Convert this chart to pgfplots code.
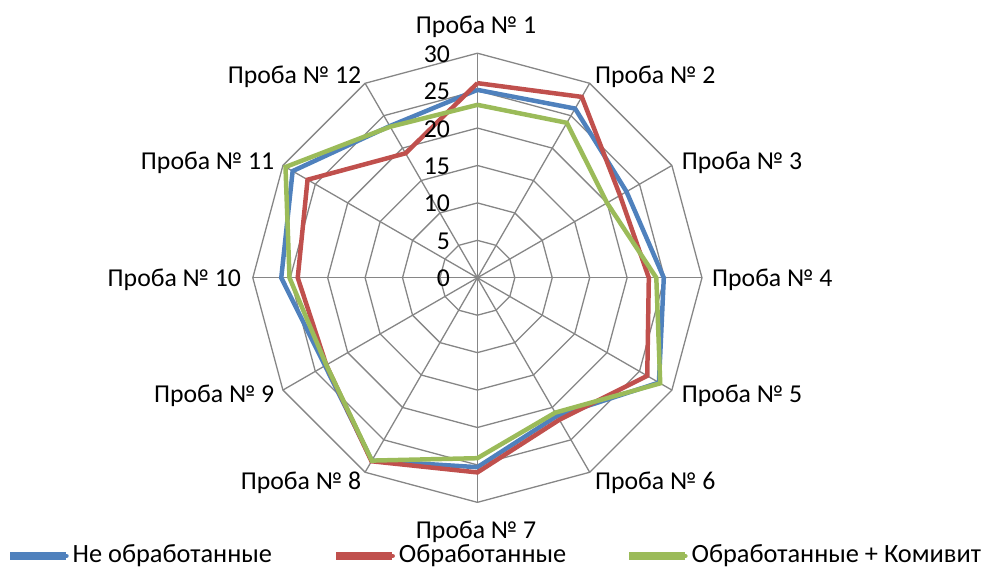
\documentclass[border=0pt]{standalone}
\usepackage{pgfplots}
\pgfplotsset{compat=1.18}
\usepackage{pgfplotstable}
\usepackage{fontspec}
\setmainfont{Carlito}
\definecolor{cblue}{HTML}{4F81BD}
\definecolor{cred}{HTML}{C0504D}
\definecolor{cgreen}{HTML}{9BBB59}
\definecolor{cgrid}{HTML}{868686}
\newcommand{\leA}{\hbox to 259.6bp{\fontsize{26.4bp}{30bp}\selectfont Не обработанные\hfil}}
\newcommand{\leB}{\hbox to 226bp{\fontsize{26.4bp}{30bp}\selectfont Обработанные\hfil}}
\newcommand{\leC}{\hbox{\fontsize{26.4bp}{30bp}\selectfont Обработанные + Комивит}}
\pgfplotstableread{
i blue red green
0 25.1 26.0 23.1
1 26.1 27.9 23.9
2 23.0 22.0 20.0
3 24.9 22.9 23.9
4 28.0 26.2 28.2
5 21.3 21.9 20.8
6 25.3 26.0 24.1
7 28.2 28.3 28.2
8 23.5 23.3 23.3
9 26.2 24.0 25.1
10 28.5 26.2 29.6
11 23.4 19.2 23.3
12 25.1 26.0 23.1
}\data
\pgfplotstableread{
i d
0 0
1 0
2 0
3 0
4 0
5 0
6 0
7 0
8 0
9 0
10 0
11 0
12 0
}\angles
\pgfplotstableread{
r d
0 0
30 0
}\spoke
\begin{document}
\begin{tikzpicture}
\fontsize{25.8bp}{30bp}\selectfont
\begin{axis}[
  x=7.5bp, y=7.5bp,
  xmin=-63.773, xmax=67.027, ymin=-38.893, ymax=37.107,
  hide axis, clip=false,
  legend columns=3,
  legend style={at={(rel axis cs:0.00958,0.0228)}, anchor=west, draw=none, fill=none,
    inner sep=0pt, column sep=4bp, nodes={inner sep=0pt}},
  legend image code/.code={\path (0bp,-2bp) rectangle (52bp,2bp); \draw[#1,line cap=round] (2.25bp,0) -- (54.75bp,0);},
]
\path (rel axis cs:0,0) rectangle (rel axis cs:1,1);
\pgfplotsinvokeforeach{5,10,15,20,25,30}{
  \addplot[cgrid, line width=1.3bp, forget plot] table[x expr={#1*sin(30*\thisrow{i})}, y expr={#1*cos(30*\thisrow{i})}] {\angles};
}
\pgfplotsinvokeforeach{0,...,11}{
  \addplot[cgrid, line width=1.3bp, forget plot] table[x expr={\thisrow{r}*sin(30*#1)}, y expr={\thisrow{r}*cos(30*#1)}] {\spoke};
}
\addplot[cblue, line width=4.5bp] table[x expr={\thisrow{blue}*sin(30*\thisrow{i})}, y expr={\thisrow{blue}*cos(30*\thisrow{i})}] {\data};
\addlegendentry{\leA}
\addplot[cred, line width=4.5bp] table[x expr={\thisrow{red}*sin(30*\thisrow{i})}, y expr={\thisrow{red}*cos(30*\thisrow{i})}] {\data};
\addlegendentry{\leB}
\addplot[cgreen, line width=4.5bp] table[x expr={\thisrow{green}*sin(30*\thisrow{i})}, y expr={\thisrow{green}*cos(30*\thisrow{i})}] {\data};
\addlegendentry{\leC}
% tick labels
\node[anchor=base east, inner sep=0pt] at (axis cs:-3.64,-1.2) {0};
\node[anchor=base east, inner sep=0pt] at (axis cs:-3.64,3.8) {5};
\node[anchor=base east, inner sep=0pt] at (axis cs:-3.64,8.8) {10};
\node[anchor=base east, inner sep=0pt] at (axis cs:-3.64,13.8) {15};
\node[anchor=base east, inner sep=0pt] at (axis cs:-3.64,18.8) {20};
\node[anchor=base east, inner sep=0pt] at (axis cs:-3.64,23.8) {25};
\node[anchor=base east, inner sep=0pt] at (axis cs:-3.64,28.8) {30};
% category labels
\node[anchor=base, inner sep=0pt] at (axis cs:-0.173,32.567) {Проба № 1};
\node[anchor=base west, inner sep=0pt] at (axis cs:15.693,26.007) {Проба № 2};
\node[anchor=base west, inner sep=0pt] at (axis cs:27.293,14.407) {Проба № 3};
\node[anchor=base west, inner sep=0pt] at (axis cs:31.333,-1.1) {Проба № 4};
\node[anchor=base west, inner sep=0pt] at (axis cs:27.293,-16.66) {Проба № 5};
\node[anchor=base west, inner sep=0pt] at (axis cs:15.693,-28.26) {Проба № 6};
\node[anchor=base, inner sep=0pt] at (axis cs:-0.173,-34.767) {Проба № 7};
\node[anchor=base east, inner sep=0pt] at (axis cs:-15.507,-28.26) {Проба № 8};
\node[anchor=base east, inner sep=0pt] at (axis cs:-27.107,-16.66) {Проба № 9};
\node[anchor=base east, inner sep=0pt] at (axis cs:-31.547,-1.1) {Проба № 10};
\node[anchor=base east, inner sep=0pt] at (axis cs:-27.107,14.407) {Проба № 11};
\node[anchor=base east, inner sep=0pt] at (axis cs:-15.507,26.007) {Проба № 12};
\end{axis}
\end{tikzpicture}
\end{document}
